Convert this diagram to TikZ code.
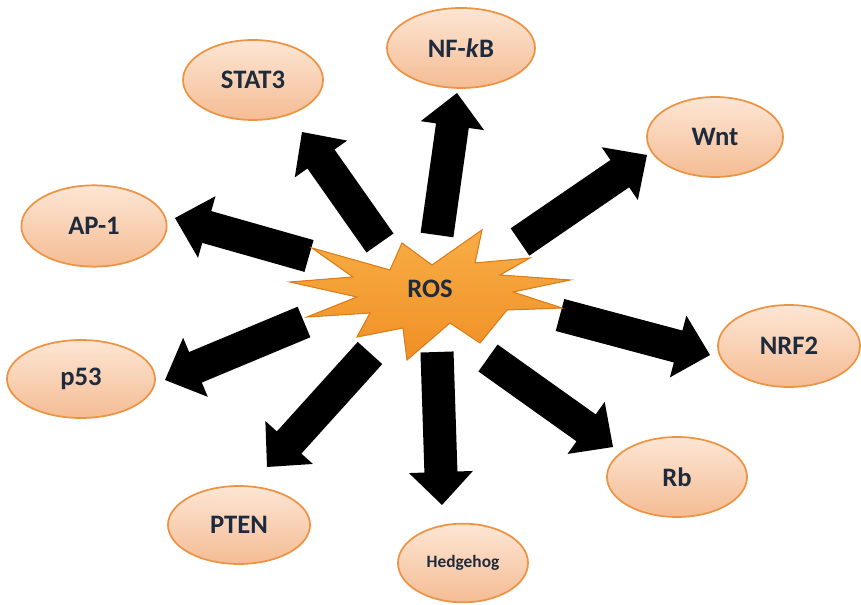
\documentclass[tikz,border=0pt]{standalone}
\usepackage{fontspec}
\setmainfont{Carlito}
\usetikzlibrary{calc,shapes.geometric}
\definecolor{txtc}{HTML}{1E2B3C}
\definecolor{bubtop}{HTML}{FDE6D4}
\definecolor{bubbot}{HTML}{F4BC94}
\definecolor{bubedge}{HTML}{EC9443}
\definecolor{startop}{HTML}{F7AE45}
\definecolor{starbot}{HTML}{F08F25}
\definecolor{staredge}{HTML}{E07C18}
\tikzset{
  bub/.style={ellipse, inner sep=0pt, draw=bubedge, line width=1.3pt,
    top color=bubtop, bottom color=bubbot, text=txtc,
    font=\bfseries\fontsize{20}{24}\selectfont},
  arrowfill/.style={fill=black},
}
\newcommand\blockarr[2]{%
  \coordinate (bA) at (#1);
  \coordinate (bB) at (#2);
  \coordinate (bH) at ($(bB)!24.75pt!(bA)$);
  \fill[arrowfill] ($(bA)!12.4pt!90:(bB)$) -- ($(bH)!12.4pt!90:(bB)$)
    -- ($(bH)!24pt!90:(bB)$) -- (bB) -- ($(bH)!24pt!-90:(bB)$)
    -- ($(bH)!12.4pt!-90:(bB)$) -- ($(bA)!12.4pt!-90:(bB)$) -- cycle;}
\begin{document}
\begin{tikzpicture}[x=0.75pt,y=-0.75pt]
\useasboundingbox (0,0) rectangle (861,605);
% target ellipses
\node[bub, minimum width=111pt, minimum height=60pt] (nfkb) at (461,48) {NF-\textit{k}B};
\node[bub, minimum width=105pt, minimum height=60pt] (stat3) at (253,80) {STAT3};
\node[bub, minimum width=102pt, minimum height=60pt] (wnt) at (715,137) {Wnt};
\node[bub, minimum width=109pt, minimum height=61pt] (ap1) at (94,226) {AP-1};
\node[bub, minimum width=111pt, minimum height=58.5pt] (p53) at (81,379) {p53};
\node[bub, minimum width=106.5pt, minimum height=61.5pt] (nrf2) at (789,346) {NRF2};
\node[bub, minimum width=105pt, minimum height=60pt] (rb) at (677,477) {Rb};
\node[bub, minimum width=106.5pt, minimum height=58.5pt] (pten) at (239,525) {PTEN};
\node[bub, minimum width=97.5pt, minimum height=59pt, font=\bfseries\fontsize{13}{15}\selectfont] (hh) at (463,563) {Hedgehog};
% arrow tails
\coordinate (t1) at (437,235);
\coordinate (t2) at (380,243);
\coordinate (t3) at (520,242);
\coordinate (t4) at (309,256);
\coordinate (t5) at (304,322);
\coordinate (t6) at (370,353);
\coordinate (t7) at (437,352);
\coordinate (t8) at (488,358);
\coordinate (t9) at (560,315);
% block arrows
\blockarr{t1}{$(nfkb)+(-4,45)$}
\blockarr{t2}{$(stat3)+(49,52)$}
\blockarr{t3}{$(wnt)+(-68,18)$}
\blockarr{t4}{$(ap1)+(81,-8)$}
\blockarr{t5}{$(p53)+(84,1)$}
\blockarr{t6}{$(pten)+(28,-58)$}
\blockarr{t7}{$(hh)+(-21,-58)$}
\blockarr{t8}{$(rb)+(-64,-30)$}
\blockarr{t9}{$(nrf2)+(-79,9)$}
% ROS star
\filldraw[draw=staredge, line width=0.8pt, top color=startop, bottom color=starbot, line join=miter]
  (312,248) -- (390,270) -- (402,243) -- (432,265) -- (482,230) -- (475,263)
  -- (530,258) -- (500,275) -- (570,280) -- (513,292) -- (562,308) -- (507,310)
  -- (480,343) -- (450,323) -- (407,360) -- (403,328) -- (357,337) -- (370,313)
  -- (307,317) -- (357,297) -- (290,282) -- (353,277) -- cycle;
\node[text=txtc, font=\bfseries\fontsize{20}{24}\selectfont] (ros) at (430,289) {ROS};
\end{tikzpicture}
\end{document}
